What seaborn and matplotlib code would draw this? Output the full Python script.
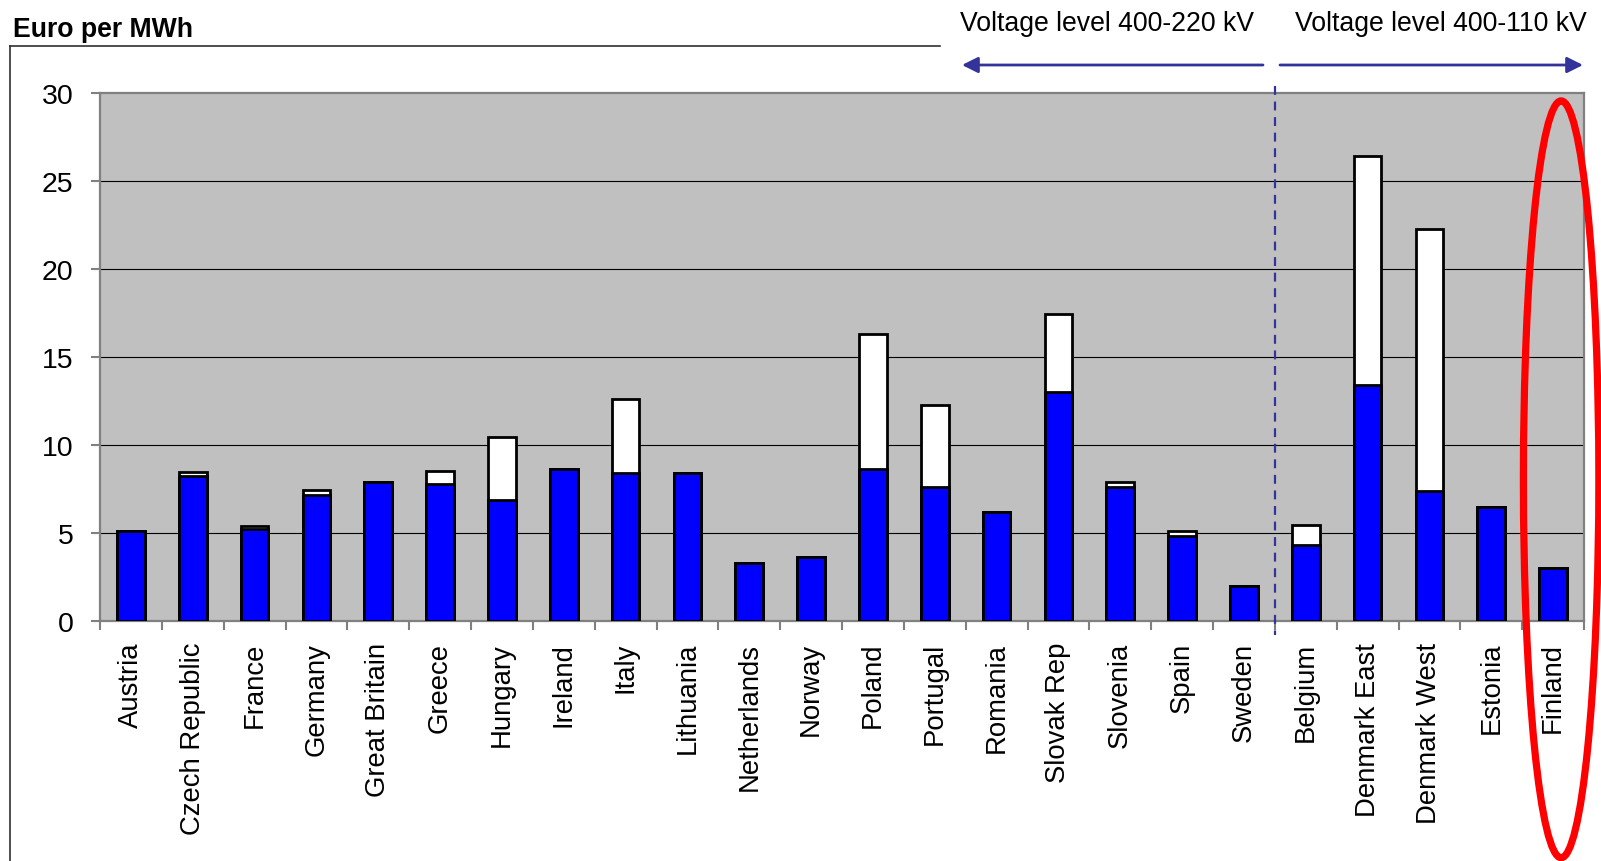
import matplotlib
matplotlib.use("Agg")
import matplotlib.pyplot as plt
import seaborn as sns
import pandas as pd
from matplotlib.patches import Ellipse, FancyArrowPatch
from matplotlib.lines import Line2D
from matplotlib.ticker import FixedLocator

countries = ["Austria", "Czech Republic", "France", "Germany", "Great Britain", "Greece",
             "Hungary", "Ireland", "Italy", "Lithuania", "Netherlands", "Norway", "Poland",
             "Portugal", "Romania", "Slovak Rep", "Slovenia", "Spain", "Sweden", "Belgium",
             "Denmark East", "Denmark West", "Estonia", "Finland"]
base_values = [5.1, 8.25, 5.25, 7.15, 7.9, 7.8, 6.9, 8.65, 8.4, 8.4, 3.3, 3.65, 8.65,
               7.6, 6.2, 13.0, 7.6, 4.85, 2.0, 4.3, 13.4, 7.4, 6.5, 3.0]
extra_values = [0.0, 0.2, 0.15, 0.3, 0.0, 0.75, 3.55, 0.0, 4.2, 0.0, 0.0, 0.0, 7.65,
                4.65, 0.0, 4.45, 0.3, 0.25, 0.0, 1.15, 13.0, 14.9, 0.0, 0.0]
y_ticks = [0, 5, 10, 15, 20, 25, 30]
group_labels = ["Voltage level 400-220 kV", "Voltage level 400-110 kV"]

df = pd.DataFrame({"country": countries, "base": base_values, "extra": extra_values})
df["total"] = df["base"] + df["extra"]

plt.rcParams["font.family"] = ["Liberation Sans", "DejaVu Sans"]

W, H = 1601, 862
fig = plt.figure(figsize=(W / 100, H / 100), dpi=100)
ax = fig.add_axes([100 / W, 1 - 622 / H, (1584 - 100) / W, (622 - 94) / H])
ax.set_facecolor("#C0C0C0")

sns.barplot(data=df, x="country", y="total", order=countries, color="white",
            edgecolor="black", linewidth=2, width=0.45, saturation=1,
            errorbar=None, ax=ax, zorder=3)
sns.barplot(data=df, x="country", y="base", order=countries, color="#0000FF",
            edgecolor="black", linewidth=2, width=0.45, saturation=1,
            errorbar=None, ax=ax, zorder=4)

n = len(countries)
ax.set_xlim(-0.5, n - 0.5)
ax.set_ylim(0, 30)
ax.set_yticks(y_ticks)
ax.set_yticklabels([str(v) for v in y_ticks], fontsize=20.5)
ax.set_xticks(range(n))
ax.set_xticklabels(countries, rotation=90, fontsize=19.8, va="top", ha="center")
ax.xaxis.set_minor_locator(FixedLocator([i - 0.5 for i in range(n + 1)]))
ax.tick_params(axis="x", which="major", length=0, pad=15)
ax.tick_params(axis="x", which="minor", length=6.5, width=1.5, color="#808080", direction="out")
ax.tick_params(axis="y", which="major", length=6.5, width=1.5, color="#808080", pad=12.5)
ax.set_xlabel("")
ax.set_ylabel("")

for v in y_ticks[1:-1]:
    ax.axhline(v, color="black", lw=0.8, zorder=1)
for s in ax.spines.values():
    s.set_color("#808080")
    s.set_linewidth(1.6)

# separator between voltage groups
sep = countries.index("Belgium") - 0.5
ax.plot([sep, sep], [30.4, -0.8], color="#333399", lw=1.6, ls=(0, (4, 3)),
        clip_on=False, zorder=5)

# red ellipse highlighting Finland
fi = countries.index("Finland")
ax.add_patch(Ellipse((fi + 0.13, 8.05), 1.22, 43.0, fill=False, edgecolor="#FF0000",
                     lw=5.2, clip_on=False, zorder=6))

# outer frame (partial chart border)
fig.add_artist(Line2D([10 / W, 10 / W], [1 - 47 / H, 0], color="#303030", lw=1.2))
fig.add_artist(Line2D([10 / W, 940 / W], [1 - 47 / H, 1 - 47 / H], color="#303030", lw=1.2))

fig.text(13 / W, 1 - 30 / H, "Euro per MWh", fontsize=19.2, fontweight="bold",
         ha="left", va="center")

# voltage group labels and arrows
fig.text(1107 / W, 1 - 24 / H, group_labels[0], fontsize=19.2, ha="center", va="center")
fig.text(1441 / W, 1 - 24 / H, group_labels[1], fontsize=19.2, ha="center", va="center")
ay = 1 - 66 / H
arrow_kw = dict(arrowstyle="-|>", color="#333399", lw=2, mutation_scale=24,
                shrinkA=0, shrinkB=0)
fig.add_artist(FancyArrowPatch((1263 / W, ay), (962 / W, ay),
               transform=fig.transFigure, **arrow_kw))
fig.add_artist(FancyArrowPatch((1280 / W, ay), (1583 / W, ay),
               transform=fig.transFigure, **arrow_kw))

fig.savefig("out.png", dpi=100)
